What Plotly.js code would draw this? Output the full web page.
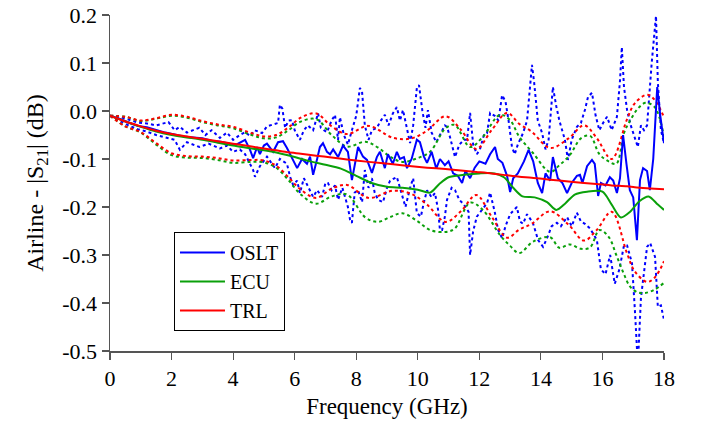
<!DOCTYPE html>
<html>
<head>
<meta charset="utf-8">
<script src="https://cdn.plot.ly/plotly-3.0.1.min.js"></script>
<style>html,body{margin:0;padding:0;background:#fff;}#chart{width:701px;height:424px;}</style>
</head>
<body>
<div id="chart"></div>
<script>
// ---- X ticks / Y ticks ----
const X_TICKS = [0,2,4,6,8,10,12,14,16,18];
const Y_TICKS = [-0.5,-0.4,-0.3,-0.2,-0.1,0.0,0.1,0.2];
const Y_TICK_LABELS = ['-0.5','-0.4','-0.3','-0.2','-0.1','0.0','0.1','0.2'];
const SERIES_NAMES = ['OSLT','ECU','TRL'];

// ---- TRL (red) ----
const TRL_F = [0,0.5,1,1.5,2,2.5,3,3.5,4,4.6,5,5.4,5.8,6.2,6.7,7.2,7.7,8.4,9.2,9.8,10.3,10.9,11.4,11.9,12.4,12.9,13.3,13.7,14.3,14.9,15.4,15.8,16.3,16.8,17.05,17.45,17.7,18];
const TRL_MEAN = [-0.010,-0.022,-0.032,-0.041,-0.048,-0.053,-0.058,-0.063,-0.068,-0.074,-0.078,-0.082,-0.086,-0.089,-0.093,-0.097,-0.101,-0.106,-0.111,-0.115,-0.118,-0.121,-0.124,-0.127,-0.130,-0.134,-0.137,-0.139,-0.143,-0.147,-0.150,-0.152,-0.155,-0.157,-0.159,-0.161,-0.162,-0.163];
const TRL_UP = [-0.010,-0.012,-0.020,-0.015,-0.008,-0.012,-0.021,-0.028,-0.033,-0.046,-0.053,-0.050,-0.034,-0.014,-0.005,-0.032,-0.048,-0.031,-0.056,-0.057,-0.041,-0.011,-0.039,-0.079,-0.040,-0.004,-0.027,-0.043,-0.077,-0.057,-0.030,-0.055,-0.100,-0.017,0.016,0.034,0.023,-0.013];
const TRL_LO = [-0.010,-0.032,-0.044,-0.067,-0.088,-0.094,-0.095,-0.098,-0.103,-0.102,-0.103,-0.114,-0.138,-0.164,-0.181,-0.162,-0.154,-0.181,-0.166,-0.173,-0.195,-0.231,-0.209,-0.175,-0.220,-0.264,-0.247,-0.235,-0.209,-0.237,-0.270,-0.249,-0.210,-0.297,-0.334,-0.356,-0.347,-0.313];

// ---- ECU (green) ----
const ECU_F = [0,0.5,1,1.5,2,2.5,3,3.5,4,4.5,5,5.5,6,6.5,7,7.5,8,8.5,9,9.5,10,10.4,10.7,11,11.5,12,12.5,12.8,13.1,13.4,13.8,14.2,14.5,14.8,15.1,15.5,16,16.3,16.6,16.9,17.2,17.5,17.8,18];
const ECU_MEAN = [-0.010,-0.022,-0.033,-0.043,-0.050,-0.055,-0.060,-0.066,-0.072,-0.077,-0.082,-0.088,-0.096,-0.105,-0.112,-0.120,-0.135,-0.150,-0.158,-0.160,-0.164,-0.170,-0.152,-0.138,-0.133,-0.130,-0.130,-0.138,-0.160,-0.178,-0.180,-0.190,-0.206,-0.192,-0.174,-0.168,-0.168,-0.195,-0.222,-0.210,-0.188,-0.178,-0.195,-0.206];
const ECU_BF = [0,0.5,1,1.5,2,2.5,3,3.5,4,4.6,5,5.4,5.8,6.2,6.7,7.2,7.7,8.3,8.7,9.1,9.5,10.0,10.4,10.9,11.2,11.7,12.1,12.67,13.0,13.3,13.75,14.3,14.6,14.94,15.3,15.6,15.9,16.2,16.45,16.7,16.9,17.15,17.4,17.7,18];
const ECU_UP = [-0.010,-0.012,-0.021,-0.016,-0.010,-0.014,-0.023,-0.030,-0.036,-0.050,-0.057,-0.055,-0.040,-0.022,-0.017,-0.050,-0.074,-0.064,-0.076,-0.095,-0.106,-0.098,-0.085,-0.036,-0.029,-0.075,-0.055,-0.008,-0.019,-0.054,-0.088,-0.127,-0.113,-0.092,-0.057,-0.052,-0.090,-0.105,-0.110,-0.046,-0.020,0.005,0.017,0.008,-0.054];
const ECU_LO = [-0.010,-0.032,-0.045,-0.070,-0.092,-0.097,-0.098,-0.102,-0.108,-0.106,-0.107,-0.118,-0.144,-0.174,-0.193,-0.178,-0.174,-0.222,-0.231,-0.221,-0.213,-0.230,-0.248,-0.252,-0.245,-0.191,-0.205,-0.258,-0.281,-0.296,-0.272,-0.263,-0.285,-0.278,-0.287,-0.284,-0.248,-0.262,-0.300,-0.340,-0.366,-0.378,-0.379,-0.372,-0.358];

// ---- OSLT (blue) ----
const OSLT_F = [0,0.3,0.6,0.9,1.2,1.5,1.8,2.1,2.4,2.7,3.0,3.3,3.6,3.9,4.1,4.39,4.55,4.65,4.78,4.87,5.0,5.10,5.30,5.46,5.62,5.75,5.91,6.08,6.24,6.40,6.50,6.60,6.73,6.82,6.92,7.05,7.15,7.25,7.41,7.57,7.73,7.86,7.96,8.06,8.22,8.35,8.51,8.67,8.77,8.93,9.03,9.19,9.32,9.42,9.55,9.65,9.80,9.97,10.07,10.2,10.30,10.45,10.6,10.72,10.88,11.0,11.15,11.3,11.44,11.55,11.7,11.85,12.0,12.2,12.35,12.51,12.6,12.75,12.9,13.0,13.1,13.25,13.45,13.6,13.75,13.9,14.04,14.15,14.3,14.39,14.55,14.7,14.85,15.0,15.17,15.27,15.35,15.5,15.66,15.75,15.86,15.95,16.1,16.24,16.35,16.47,16.57,16.67,16.78,16.89,17.0,17.12,17.22,17.32,17.45,17.54,17.65,17.78,17.88,18.0];
const OSLT_MEAN = [-0.010,-0.016,-0.024,-0.031,-0.034,-0.040,-0.045,-0.049,-0.053,-0.055,-0.057,-0.062,-0.064,-0.068,-0.070,-0.060,-0.081,-0.098,-0.075,-0.090,-0.072,-0.068,-0.085,-0.065,-0.063,-0.077,-0.098,-0.119,-0.100,-0.110,-0.095,-0.133,-0.100,-0.075,-0.067,-0.085,-0.090,-0.080,-0.096,-0.072,-0.085,-0.144,-0.110,-0.075,-0.095,-0.102,-0.129,-0.096,-0.085,-0.119,-0.090,-0.110,-0.085,-0.100,-0.096,-0.119,-0.100,-0.060,-0.065,-0.095,-0.108,-0.085,-0.120,-0.100,-0.113,-0.105,-0.130,-0.135,-0.150,-0.125,-0.140,-0.118,-0.105,-0.110,-0.090,-0.075,-0.100,-0.108,-0.135,-0.169,-0.140,-0.130,-0.105,-0.081,-0.105,-0.150,-0.171,-0.130,-0.145,-0.096,-0.140,-0.150,-0.171,-0.150,-0.135,-0.133,-0.150,-0.115,-0.102,-0.110,-0.177,-0.150,-0.155,-0.138,-0.145,-0.171,-0.140,-0.050,-0.110,-0.165,-0.180,-0.269,-0.144,-0.119,-0.125,-0.165,-0.100,0.050,-0.010,-0.067];
const OSLT_UF = [0,0.3,0.6,0.9,1.2,1.5,1.9,2.1,2.27,2.5,2.9,3.1,3.3,3.57,3.8,4.0,4.22,4.39,4.55,4.7,4.94,5.10,5.30,5.46,5.52,5.6,5.69,5.8,5.91,6.0,6.17,6.3,6.43,6.6,6.76,6.85,6.95,7.05,7.2,7.31,7.41,7.47,7.6,7.73,7.86,8.0,8.12,8.19,8.28,8.4,8.51,8.67,8.8,8.93,9.05,9.19,9.32,9.42,9.52,9.65,9.75,9.85,9.97,10.04,10.15,10.25,10.33,10.45,10.6,10.72,10.88,10.95,11.05,11.21,11.35,11.5,11.60,11.70,11.8,11.92,12.02,12.15,12.25,12.35,12.5,12.62,12.74,12.85,12.95,13.06,13.15,13.25,13.42,13.55,13.71,13.78,13.9,14.04,14.15,14.25,14.33,14.39,14.5,14.6,14.78,14.88,15.0,15.17,15.3,15.43,15.53,15.66,15.78,15.9,16.02,16.15,16.3,16.47,16.57,16.63,16.7,16.8,16.92,17.06,17.15,17.25,17.35,17.45,17.6,17.74,17.8,17.9,18.0];
const OSLT_UP = [-0.010,-0.012,-0.018,-0.024,-0.026,-0.030,-0.023,-0.040,-0.033,-0.045,-0.035,-0.050,-0.040,-0.056,-0.045,-0.060,-0.050,-0.044,-0.052,-0.040,-0.046,-0.032,-0.028,-0.025,0.013,0.005,-0.035,-0.020,-0.019,-0.040,-0.060,-0.040,-0.030,-0.040,-0.005,-0.035,-0.040,-0.044,-0.020,-0.008,-0.060,-0.013,-0.050,-0.070,-0.040,-0.010,0.048,0.040,-0.030,-0.060,-0.040,-0.035,-0.020,-0.008,-0.030,-0.005,0.008,-0.020,0.002,-0.040,-0.067,-0.030,0.048,0.054,0.000,-0.035,0.002,-0.045,-0.065,-0.050,-0.030,-0.033,-0.055,-0.096,-0.070,-0.060,-0.060,-0.004,-0.070,-0.090,-0.080,-0.050,-0.046,-0.004,-0.010,-0.020,0.033,0.020,-0.020,-0.075,-0.090,-0.070,-0.046,-0.020,0.096,0.060,-0.020,-0.046,-0.080,-0.060,0.010,0.050,0.010,-0.020,-0.060,-0.102,-0.060,-0.033,-0.025,0.002,0.029,0.038,-0.010,-0.040,-0.025,-0.012,-0.040,-0.012,0.063,0.133,0.050,0.002,-0.030,-0.060,-0.075,-0.030,-0.040,-0.030,0.100,0.198,0.060,-0.040,-0.067];
const OSLT_LF = [0,0.3,0.6,0.9,1.2,1.5,1.8,2.1,2.27,2.5,2.9,3.2,3.57,3.8,4.0,4.22,4.39,4.55,4.65,4.71,4.87,5.10,5.2,5.36,5.52,5.75,5.85,5.95,6.08,6.17,6.3,6.43,6.60,6.73,6.89,7.0,7.08,7.2,7.31,7.41,7.55,7.73,7.80,7.86,7.95,8.06,8.19,8.28,8.4,8.51,8.6,8.71,8.87,9.0,9.10,9.32,9.49,9.6,9.75,9.85,9.97,10.1,10.2,10.3,10.45,10.56,10.66,10.72,10.79,10.88,10.95,11.1,11.21,11.35,11.5,11.65,11.70,11.8,11.92,12.1,12.25,12.35,12.5,12.61,12.74,12.85,13.0,13.22,13.32,13.42,13.55,13.74,13.91,14.07,14.2,14.35,14.52,14.65,14.85,15.0,15.17,15.3,15.43,15.6,15.82,15.95,16.1,16.25,16.4,16.55,16.7,16.8,16.96,17.06,17.15,17.25,17.45,17.55,17.71,17.80,17.9,18.0];
const OSLT_LO = [-0.010,-0.020,-0.030,-0.038,-0.043,-0.050,-0.055,-0.060,-0.081,-0.065,-0.075,-0.068,-0.078,-0.072,-0.085,-0.080,-0.090,-0.110,-0.123,-0.137,-0.115,-0.095,-0.105,-0.119,-0.100,-0.110,-0.137,-0.154,-0.145,-0.171,-0.140,-0.158,-0.179,-0.165,-0.179,-0.150,-0.150,-0.165,-0.155,-0.185,-0.160,-0.200,-0.227,-0.233,-0.170,-0.165,-0.190,-0.123,-0.160,-0.140,-0.170,-0.185,-0.190,-0.160,-0.145,-0.1375,-0.179,-0.200,-0.160,-0.140,-0.2125,-0.220,-0.190,-0.165,-0.180,-0.171,-0.206,-0.248,-0.248,-0.220,-0.185,-0.160,-0.165,-0.185,-0.195,-0.210,-0.300,-0.250,-0.220,-0.205,-0.192,-0.170,-0.210,-0.248,-0.265,-0.240,-0.215,-0.200,-0.230,-0.235,-0.215,-0.233,-0.269,-0.283,-0.265,-0.240,-0.233,-0.240,-0.221,-0.240,-0.212,-0.230,-0.235,-0.245,-0.269,-0.330,-0.340,-0.300,-0.360,-0.330,-0.280,-0.280,-0.317,-0.421,-0.530,-0.390,-0.283,-0.275,-0.304,-0.408,-0.405,-0.435];

const BLUE = 'rgb(0,0,255)';
const GREEN = 'rgb(10,160,10)';
const RED = 'rgb(255,0,0)';
const FONT = 'Liberation Serif, Times New Roman, serif';

function dotted(x, y, color, spline) {
  return {x: x, y: y, type: 'scatter', mode: 'lines', showlegend: false, hoverinfo: 'skip',
    line: {color: color, width: 2, dash: 'dot', shape: spline ? 'spline' : 'linear', smoothing: 1}};
}
function solid(x, y, color, name, spline) {
  return {x: x, y: y, type: 'scatter', mode: 'lines', name: name,
    line: {color: color, width: 2, shape: spline ? 'spline' : 'linear', smoothing: 0.8}};
}

const traces = [
  dotted(OSLT_UF, OSLT_UP, BLUE, false),
  dotted(OSLT_LF, OSLT_LO, BLUE, false),
  dotted(ECU_BF, ECU_UP, GREEN, true),
  dotted(ECU_BF, ECU_LO, GREEN, true),
  dotted(TRL_F, TRL_UP, RED, true),
  dotted(TRL_F, TRL_LO, RED, true),
  solid(OSLT_F, OSLT_MEAN, BLUE, SERIES_NAMES[0], false),
  solid(ECU_F, ECU_MEAN, GREEN, SERIES_NAMES[1], true),
  solid(TRL_F, TRL_MEAN, RED, SERIES_NAMES[2], true)
];

const axisCommon = {
  showline: true, linecolor: '#555', linewidth: 1.5, mirror: false,
  ticks: 'outside', ticklen: 7, tickwidth: 1.2, tickcolor: '#555',
  showgrid: false, zeroline: false,
  tickfont: {family: FONT, size: 22, color: '#000'}
};

const layout = {
  width: 701, height: 424,
  margin: {l: 110, r: 37, t: 15, b: 73},
  paper_bgcolor: '#fff', plot_bgcolor: '#fff',
  font: {family: FONT, color: '#000'},
  showlegend: true,
  legend: {x: 0.1155, y: 0.354, xanchor: 'left', yanchor: 'top',
    bgcolor: '#fff', bordercolor: '#000', borderwidth: 1, itemwidth: 45,
    font: {family: FONT, size: 20, color: '#000'}, tracegroupgap: 0},
  xaxis: Object.assign({}, axisCommon, {
    range: [0, 18], tickvals: X_TICKS,
    title: {text: 'Frequency (GHz)', font: {family: FONT, size: 23}, standoff: 8}
  }),
  yaxis: Object.assign({}, axisCommon, {
    range: [-0.5, 0.2], tickvals: Y_TICKS, ticktext: Y_TICK_LABELS,
    title: {text: 'Airline - |S<sub>21</sub>| (dB)', font: {family: FONT, size: 24}, standoff: 12}
  })
};

Plotly.newPlot('chart', traces, layout, {displayModeBar: false, staticPlot: true});
</script>
</body>
</html>
